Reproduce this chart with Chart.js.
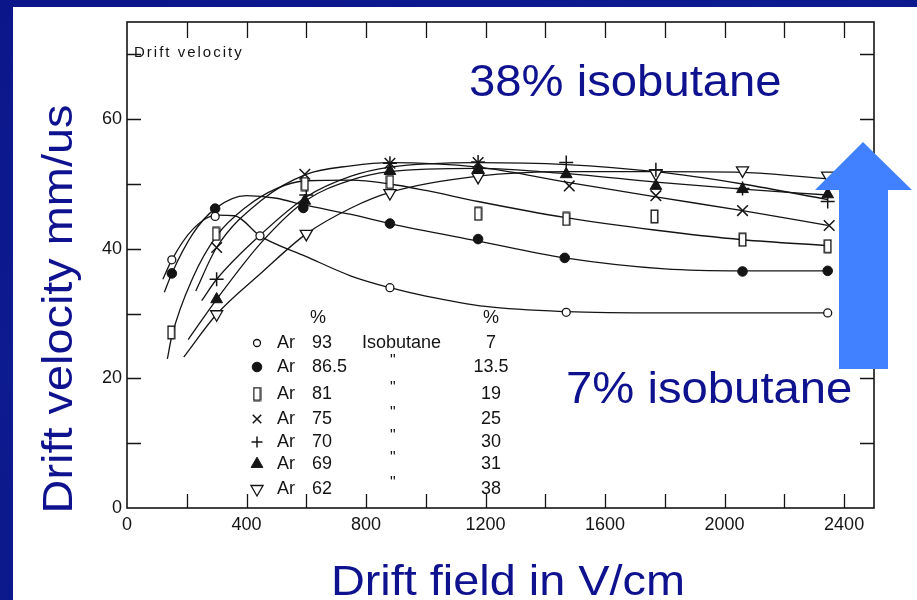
<!DOCTYPE html>
<html>
<head>
<meta charset="utf-8">
<script src="https://cdn.jsdelivr.net/npm/chart.js@4/dist/chart.umd.min.js"></script>
<style>
  html, body { margin: 0; padding: 0; background: #fff; overflow: hidden; }
  #wrap { width: 917px; height: 600px; position: relative; }
</style>
</head>
<body>
<div id="wrap"><canvas id="c" width="917" height="600"></canvas></div>
<script>
// Drift velocity (mm/us) versus drift field (V/cm) for argon / isobutane mixtures

// mixture composition, one entry per curve
const arPercent  = ['93', '86.5', '81', '75', '70', '69', '62'];
const isoPercent = ['7', '13.5', '19', '25', '30', '31', '38'];

// measured points
const ar93X   = [150, 295, 445, 880, 1470, 2345];
const ar93Y   = [38.3, 45.0, 42.0, 34.0, 30.2, 30.1];
const ar865X  = [150, 295, 590, 880, 1175, 1465, 2060, 2345];
const ar865Y  = [36.2, 46.2, 46.3, 43.9, 41.5, 38.6, 36.5, 36.6];
const ar81X   = [148, 298, 595, 880, 1175, 1470, 1765, 2060, 2345];
const ar81Y   = [27.1, 42.3, 50.0, 50.3, 45.4, 44.6, 45.0, 41.4, 40.4];
const ar75X   = [300, 595, 880, 1175, 1480, 1770, 2060, 2350];
const ar75Y   = [40.2, 51.5, 53.2, 53.3, 49.7, 48.2, 45.9, 43.6];
const ar70X   = [300, 600, 880, 1175, 1470, 1770, 2060, 2345];
const ar70Y   = [35.3, 48.3, 53.2, 53.4, 53.3, 52.2, 49.3, 47.3];
const ar69X   = [300, 595, 880, 1175, 1470, 1770, 2060, 2345];
const ar69Y   = [32.2, 47.4, 52.0, 52.3, 51.5, 49.7, 49.2, 48.4];
const ar62X   = [300, 600, 880, 1175, 1770, 2060, 2345];
const ar62Y   = [29.9, 42.3, 48.6, 51.1, 51.6, 52.1, 51.3];

// hand-drawn smooth curves through each set of measurements
const ar93CurveX  = [120, 150, 220, 300, 360, 445, 600, 750, 880, 1000, 1200, 1470, 1800, 2345];
const ar93CurveY  = [35.3, 38.3, 43.0, 45.2, 45.1, 42.0, 38.8, 35.8, 34.0, 32.7, 31.1, 30.3, 30.1, 30.1];
const ar865CurveX = [125, 150, 220, 295, 400, 500, 590, 750, 880, 1175, 1465, 1800, 2060, 2345];
const ar865CurveY = [33.3, 36.2, 42.3, 46.2, 48.2, 47.8, 46.8, 45.3, 43.9, 41.2, 38.6, 36.9, 36.6, 36.6];
const ar81CurveX  = [135, 150, 220, 300, 400, 500, 600, 750, 880, 1000, 1175, 1470, 1765, 2060, 2345];
const ar81CurveY  = [23.0, 26.5, 35.5, 42.0, 46.5, 49.3, 50.5, 50.6, 50.0, 49.0, 47.3, 44.8, 42.9, 41.4, 40.5];
const ar75CurveX  = [230, 300, 450, 600, 750, 880, 1175, 1470, 1770, 2060, 2345];
const ar75CurveY  = [33.5, 40.2, 47.5, 51.5, 52.8, 53.3, 52.6, 50.3, 48.0, 45.9, 43.6];
const ar70CurveX  = [250, 300, 450, 600, 750, 880, 1175, 1470, 1770, 2060, 2345];
const ar70CurveY  = [32.0, 35.3, 42.3, 48.0, 51.2, 52.6, 53.3, 53.0, 51.9, 50.0, 47.6];
const ar69CurveX  = [205, 300, 450, 600, 750, 880, 1175, 1470, 1770, 2060, 2345];
const ar69CurveY  = [26.0, 32.2, 41.0, 47.5, 50.6, 51.9, 52.4, 51.6, 50.3, 49.2, 48.3];
const ar62CurveX  = [190, 300, 450, 600, 750, 880, 1175, 1470, 1770, 2060, 2345];
const ar62CurveY  = [23.3, 29.9, 36.3, 42.3, 46.3, 48.7, 51.2, 51.9, 51.9, 51.8, 50.8];

// axis ranges and labels
const fieldMin = 0, fieldMax = 2500, fieldStep = 200, fieldLabelStep = 400;
const velMin = 0, velMax = 75, velStep = 10, velLabelStep = 20;

const xTitle = 'Drift field in V/cm';
const yTitle = 'Drift velocity mm/us';
const innerTitle = 'Drift velocity';
const highNote = '38% isobutane';
const lowNote = '7% isobutane';

const NAVY = '#0f128e';
const INK = '#141414';
const ARROW = '#4180ff';
const TICK_FONT = 'Liberation Sans, Arial, sans-serif';

const pts = (xs, ys) => xs.map((x, i) => ({ x, y: ys[i] }));

// tall open rectangle marker
function tallRect() {
  const c = document.createElement('canvas');
  c.width = 9; c.height = 15;
  const g = c.getContext('2d');
  g.fillStyle = '#fff';
  g.fillRect(1, 1, 7, 13);
  g.strokeStyle = INK;
  g.lineWidth = 1.4;
  g.strokeRect(1.2, 1.2, 6.6, 12.6);
  return c;
}
const rectMarker = tallRect();

// marker style per mixture
const markers = [
  { pointStyle: 'circle',   radius: 4,   rotation: 0,   fill: '#fff', border: 1.3 },
  { pointStyle: 'circle',   radius: 4.8, rotation: 0,   fill: INK,    border: 1 },
  { pointStyle: rectMarker, radius: 7,   rotation: 0,   fill: '#fff', border: 1.3 },
  { pointStyle: 'crossRot', radius: 7.5, rotation: 0,   fill: INK,    border: 1.5 },
  { pointStyle: 'cross',    radius: 7,   rotation: 0,   fill: INK,    border: 1.5 },
  { pointStyle: 'triangle', radius: 6.8, rotation: 0,   fill: INK,    border: 1 },
  { pointStyle: 'triangle', radius: 7,   rotation: 180, fill: '#fff', border: 1.3 }
];

const pointSets = [
  [ar93X, ar93Y], [ar865X, ar865Y], [ar81X, ar81Y], [ar75X, ar75Y],
  [ar70X, ar70Y], [ar69X, ar69Y], [ar62X, ar62Y]
];
const curveSets = [
  [ar93CurveX, ar93CurveY], [ar865CurveX, ar865CurveY], [ar81CurveX, ar81CurveY],
  [ar75CurveX, ar75CurveY], [ar70CurveX, ar70CurveY], [ar69CurveX, ar69CurveY],
  [ar62CurveX, ar62CurveY]
];

const datasets = [];
pointSets.forEach(([xs, ys], i) => {
  const m = markers[i];
  datasets.push({
    label: 'Ar ' + arPercent[i],
    data: pts(xs, ys),
    showLine: false,
    order: 1,
    pointStyle: m.pointStyle,
    pointRadius: m.radius,
    pointRotation: m.rotation,
    pointBackgroundColor: m.fill,
    pointBorderColor: INK,
    pointBorderWidth: m.border
  });
});
curveSets.forEach(([xs, ys], i) => {
  datasets.push({
    label: 'curve ' + arPercent[i],
    data: pts(xs, ys),
    showLine: true,
    order: 2,
    pointRadius: 0,
    borderColor: INK,
    borderWidth: 1.3,
    cubicInterpolationMode: 'monotone',
    fill: false
  });
});

function stretched(ctx, text, x, y, size, sx, color, align) {
  ctx.save();
  ctx.font = size + 'px "Liberation Sans", Arial, sans-serif';
  ctx.fillStyle = color;
  ctx.textBaseline = 'alphabetic';
  const w = ctx.measureText(text).width * sx;
  let x0 = x;
  if (align === 'center') x0 = x - w / 2;
  ctx.translate(x0, y);
  ctx.scale(sx, 1);
  ctx.textAlign = 'left';
  ctx.fillText(text, 0, 0);
  ctx.restore();
}

// blue slide frame behind the white panel
const slideBack = {
  id: 'slideBack',
  beforeDraw(chart) {
    const ctx = chart.ctx;
    ctx.save();
    const g = ctx.createLinearGradient(0, 0, 300, 600);
    g.addColorStop(0, '#0b168a');
    g.addColorStop(0.5, '#0d1b90');
    g.addColorStop(1, '#0a1688');
    ctx.fillStyle = g;
    ctx.fillRect(0, 0, 917, 600);
    ctx.fillStyle = '#ffffff';
    ctx.fillRect(13, 7, 904, 593);
    ctx.restore();
  }
};

// plot frame, inward ticks, inner key, notes and arrow
const decorations = {
  id: 'decorations',
  afterDraw(chart) {
    const { ctx, chartArea: a, scales: { x, y } } = chart;
    ctx.save();
    ctx.strokeStyle = INK;
    ctx.lineWidth = 1.6;
    ctx.strokeRect(a.left, a.top, a.right - a.left, a.bottom - a.top);

    ctx.lineWidth = 1.3;
    ctx.beginPath();
    x.ticks.forEach(t => {
      if (t.value <= fieldMin) return;
      const px = Math.round(x.getPixelForValue(t.value)) + 0.5;
      ctx.moveTo(px, a.bottom); ctx.lineTo(px, a.bottom - 14);
      ctx.moveTo(px, a.top);    ctx.lineTo(px, a.top + 16);
    });
    y.ticks.forEach(t => {
      if (t.value <= velMin) return;
      const py = Math.round(y.getPixelForValue(t.value)) + 0.5;
      ctx.moveTo(a.left, py);  ctx.lineTo(a.left + 14, py);
      ctx.moveTo(a.right, py); ctx.lineTo(a.right - 14, py);
    });
    ctx.stroke();

    // small heading inside the frame
    ctx.fillStyle = INK;
    ctx.font = '15px "Liberation Sans", Arial, sans-serif';
    ctx.textBaseline = 'alphabetic';
    try { ctx.letterSpacing = '2px'; } catch (e) {}
    ctx.fillText(innerTitle, 134, 57);
    try { ctx.letterSpacing = '0px'; } catch (e) {}

    // composition key
    const rowsY = [343, 367, 394, 419, 442, 464, 489];
    ctx.font = '18px "Liberation Sans", Arial, sans-serif';
    ctx.textBaseline = 'middle';
    ctx.textAlign = 'center';
    ctx.fillText('%', 318, 318);
    ctx.fillText('%', 491, 318);
    rowsY.forEach((ry, i) => {
      const m = markers[i];
      ctx.save();
      ctx.fillStyle = m.fill;
      ctx.strokeStyle = INK;
      ctx.lineWidth = m.border;
      const r = i === 0 ? 3.5 : (i === 3 ? 6 : (i === 4 ? 5.5 : m.radius));
      Chart.helpers.drawPoint(ctx, { pointStyle: m.pointStyle, rotation: m.rotation, radius: r, borderWidth: m.border }, 257, ry);
      ctx.restore();
      ctx.fillStyle = INK;
      ctx.textAlign = 'left';
      ctx.fillText('Ar', 277, ry);
      ctx.fillText(arPercent[i], 312, ry);
      if (i === 0) {
        ctx.fillText('Isobutane', 362, ry);
      } else {
        ctx.save();
        ctx.font = '16px "Liberation Sans", Arial, sans-serif';
        ctx.fillText('"', 390, ry - 5);
        ctx.restore();
      }
      ctx.textAlign = 'center';
      ctx.fillText(isoPercent[i], 491, ry);
    });
    ctx.restore();

    // arrow pointing from low to high isobutane content
    ctx.save();
    ctx.fillStyle = ARROW;
    ctx.beginPath();
    ctx.moveTo(863, 142);
    ctx.lineTo(912, 190);
    ctx.lineTo(888, 190);
    ctx.lineTo(888, 369);
    ctx.lineTo(839, 369);
    ctx.lineTo(839, 190);
    ctx.lineTo(815, 190);
    ctx.closePath();
    ctx.fill();
    ctx.restore();

    stretched(ctx, highNote, 469, 96, 45, 1.05, NAVY, 'left');
    stretched(ctx, lowNote, 566, 403, 45, 1.05, NAVY, 'left');

    // axis titles
    stretched(ctx, xTitle, 508, 595, 43, 1.09, NAVY, 'center');
    ctx.save();
    ctx.translate(72, 309);
    ctx.rotate(-Math.PI / 2);
    stretched(ctx, yTitle, 0, 0, 43, 1.09, NAVY, 'center');
    ctx.restore();
  }
};

new Chart(document.getElementById('c'), {
  type: 'scatter',
  data: { datasets },
  options: {
    responsive: false,
    animation: false,
    devicePixelRatio: 1,
    layout: { padding: { left: 0, top: 22, right: 43, bottom: 0 } },
    plugins: { legend: { display: false }, tooltip: { enabled: false }, title: { display: false } },
    elements: { line: { tension: 0.4 } },
    scales: {
      x: {
        type: 'linear',
        position: 'bottom',
        min: fieldMin, max: fieldMax,
        afterFit(s) { s.height = 92; },
        grid: { display: false, drawTicks: false },
        border: { display: false },
        ticks: {
          stepSize: fieldStep, includeBounds: false, autoSkip: false, maxRotation: 0,
          padding: 6, color: INK, font: { family: TICK_FONT, size: 18 },
          callback: v => (v % fieldLabelStep === 0 ? String(v) : '')
        }
      },
      y: {
        type: 'linear',
        min: velMin, max: velMax,
        afterFit(s) { s.width = 127; },
        grid: { display: false, drawTicks: false },
        border: { display: false },
        ticks: {
          stepSize: velStep, includeBounds: false, autoSkip: false,
          padding: 5, color: INK, font: { family: TICK_FONT, size: 18 },
          callback: v => (v % velLabelStep === 0 ? String(v) : '')
        }
      }
    }
  },
  plugins: [slideBack, decorations]
});
</script>
</body>
</html>
